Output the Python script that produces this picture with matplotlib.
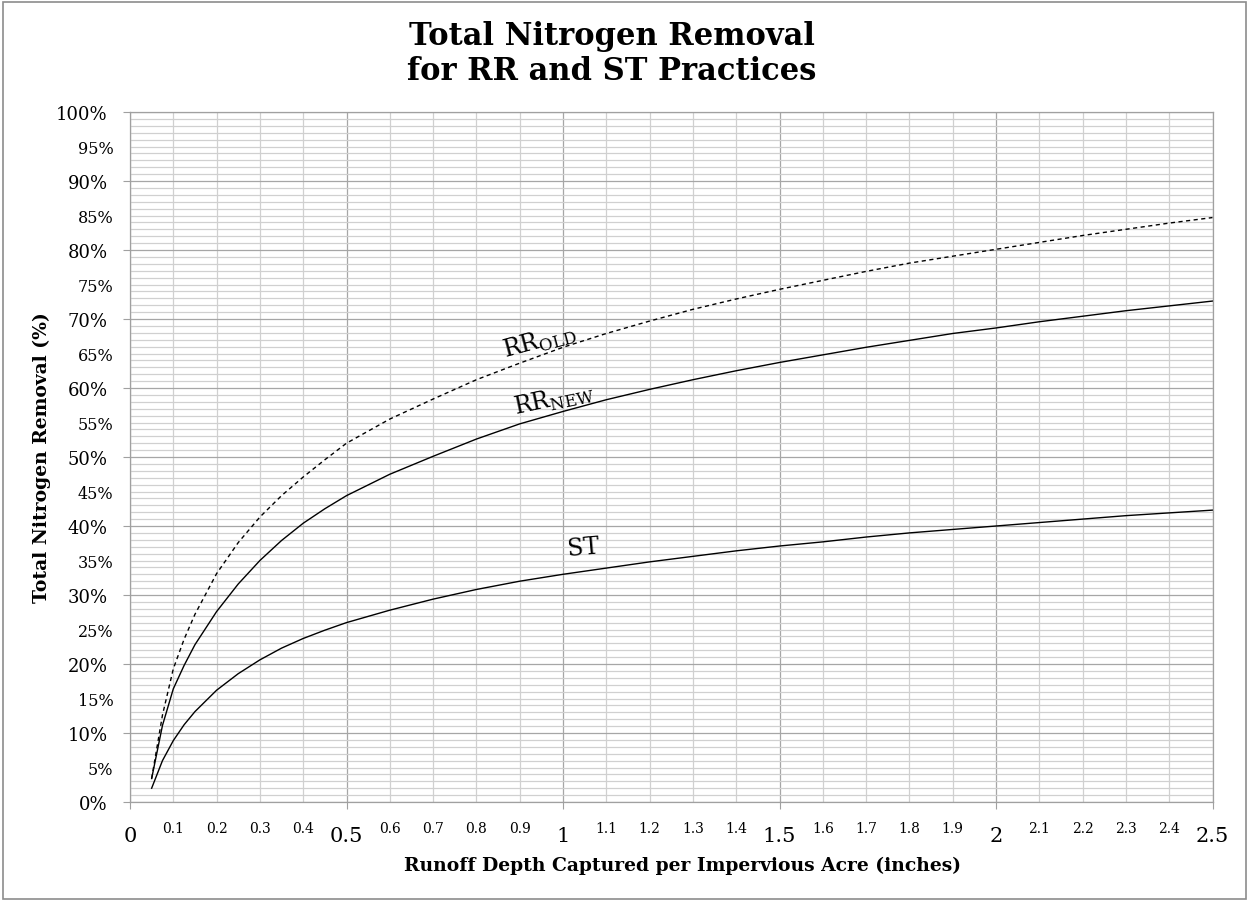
import matplotlib
matplotlib.use("Agg")
import matplotlib.pyplot as plt
from matplotlib.ticker import FixedLocator, FuncFormatter, MultipleLocator
from matplotlib.patches import Rectangle

plt.rcParams['font.family'] = ['DejaVu Serif']
plt.rcParams['mathtext.fontset'] = 'custom'
plt.rcParams['mathtext.rm'] = 'DejaVu Serif'

# runoff depth (inches) and removal (%)
depth = [0.05, 0.075, 0.1, 0.125, 0.15, 0.2, 0.25, 0.3, 0.35, 0.4, 0.45, 0.5, 0.6, 0.7, 0.8, 0.9, 1.0,
         1.1, 1.2, 1.3, 1.4, 1.5, 1.6, 1.7, 1.8, 1.9, 2.0, 2.1, 2.2, 2.3, 2.4, 2.5]
rr_old = [3.4, 12.6, 19.3, 23.6, 27.2, 33.1, 37.6, 41.3, 44.4, 47.1, 49.6, 52.0, 55.5, 58.4, 61.2, 63.6, 65.9,
          67.9, 69.7, 71.4, 72.9, 74.3, 75.6, 76.9, 78.1, 79.1, 80.1, 81.1, 82.1, 83.0, 83.9, 84.7]
rr_new = [3.4, 11.1, 16.4, 19.8, 22.8, 27.6, 31.6, 35.0, 37.9, 40.4, 42.5, 44.4, 47.5, 50.1, 52.6, 54.8, 56.6,
          58.3, 59.8, 61.2, 62.5, 63.7, 64.8, 65.9, 66.9, 67.9, 68.7, 69.6, 70.4, 71.2, 71.9, 72.6]
st = [2.0, 6.0, 8.9, 11.2, 13.1, 16.2, 18.6, 20.6, 22.3, 23.7, 24.9, 26.0, 27.8, 29.4, 30.8, 32.0, 33.0,
      33.9, 34.8, 35.6, 36.4, 37.1, 37.7, 38.4, 39.0, 39.5, 40.0, 40.5, 41.0, 41.5, 41.9, 42.3]

fig = plt.figure(figsize=(12.49, 9.03), dpi=100)
ax = fig.add_axes([130 / 1249, 1 - 803 / 903, 1082.5 / 1249, 690 / 903])

# figure border
fig.patches.append(Rectangle((3 / 1249, 3 / 903), 1243 / 1249, 897 / 903,
                             transform=fig.transFigure, fill=False,
                             edgecolor='#8c8c8c', linewidth=1.2))

ax.plot(depth, rr_old, color='black', linewidth=1.0, linestyle=(0, (3, 2.5)))
ax.plot(depth, rr_new, color='black', linewidth=1.0)
ax.plot(depth, st, color='black', linewidth=1.0)

ax.set_xlim(0, 2.5)
ax.set_ylim(0, 100)

# x ticks: big labels every 0.5, small ones every 0.1
ax.xaxis.set_major_locator(MultipleLocator(0.5))
minor_x = [i / 10 for i in range(1, 25) if i % 5 != 0]
ax.xaxis.set_minor_locator(FixedLocator(minor_x))
ax.xaxis.set_major_formatter(FuncFormatter(lambda v, p: '%g' % round(v, 1)))
ax.xaxis.set_minor_formatter(FuncFormatter(lambda v, p: '%g' % round(v, 1)))
ax.tick_params(axis='x', which='major', length=5, color='#a0a0a0', labelsize=15, pad=12)
ax.tick_params(axis='x', which='minor', length=0, labelsize=10, pad=14)

# y ticks: grid every 1%, labels every 5%
ax.yaxis.set_major_locator(MultipleLocator(10))
minor_y = [i for i in range(1, 100) if i % 10 != 0]
ax.yaxis.set_minor_locator(FixedLocator(minor_y))
ax.yaxis.set_major_formatter(FuncFormatter(lambda v, p: '%d%%' % v))
ax.yaxis.set_minor_formatter(FuncFormatter(lambda v, p: '%d%%' % v if round(v) % 5 == 0 else ''))
ax.tick_params(axis='y', which='major', length=5, color='#a0a0a0', labelsize=13, pad=11)
ax.tick_params(axis='y', which='minor', length=0, labelsize=11.5, pad=12)

ax.grid(True, which='major', axis='both', color='#a6a6a6', linewidth=0.9)
ax.grid(True, which='minor', axis='both', color='#d0d0d0', linewidth=0.9)
ax.set_axisbelow(True)
for s in ax.spines.values():
    s.set_color('#a0a0a0')
    s.set_linewidth(0.9)

ax.text(0.947, 66.8, r'RR$_\mathrm{OLD}$', fontsize=17, rotation=15, ha='center', va='center')
ax.text(0.98, 58.4, r'RR$_\mathrm{NEW}$', fontsize=17, rotation=12, ha='center', va='center')
ax.text(1.046, 37.0, 'ST', fontsize=17, rotation=5, ha='center', va='center')

fig.text(612 / 1249, 1 - 54 / 903, 'Total Nitrogen Removal\nfor RR and ST Practices',
         ha='center', va='center', fontsize=22, fontweight='bold', linespacing=1.2)
fig.text(42 / 1249, 1 - 458 / 903, 'Total Nitrogen Removal (%)', rotation=90,
         ha='center', va='center', fontsize=13.5, fontweight='bold')
fig.text(683 / 1249, 1 - 866 / 903, 'Runoff Depth Captured per Impervious Acre (inches)',
         ha='center', va='center', fontsize=13.5, fontweight='bold')

fig.savefig('out.png', dpi=100)
